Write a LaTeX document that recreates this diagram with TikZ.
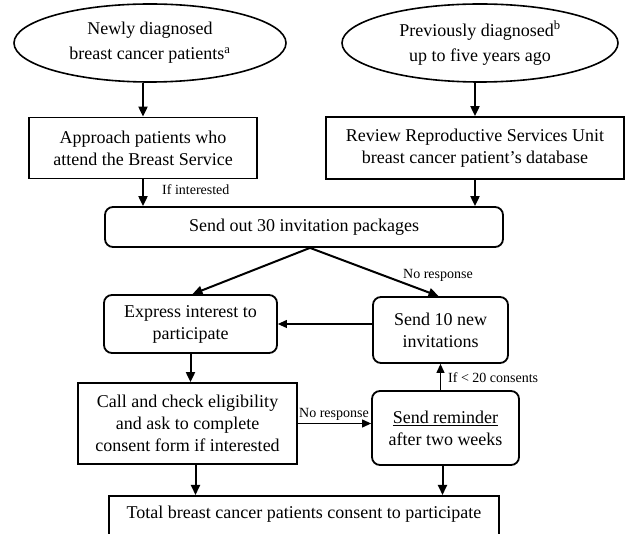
\documentclass[tikz,border=0pt]{standalone}
\usepackage{fontspec}
\setmainfont{Liberation Serif}
\usetikzlibrary{arrows.meta,shapes.geometric,calc}
\begin{document}
\begin{tikzpicture}[x=1pt,y=-1pt,
  every node/.style={font=\fontsize{18}{22}\selectfont, align=center, inner sep=0pt},
  oval/.style={draw, ellipse, line width=1.6pt, font=\fontsize{18}{25}\selectfont},
  sqbox/.style={draw, rectangle, line width=1.8pt},
  rbox/.style={draw, rectangle, rounded corners=8pt, line width=1.8pt},
  mainarrow/.style={line width=2pt, -{Triangle[length=10pt,width=9pt]}},
  thinarrow/.style={line width=1.1pt, -{Triangle[length=9pt,width=8pt]}},
  lbl/.style={font=\fontsize{14}{17}\selectfont}]
\clip (0,0) rectangle (630,534);
\fill[white] (0,0) rectangle (630,534);

% nodes
\node[oval, minimum width=272pt, minimum height=78pt] (e1) at (150,43)
  {Newly diagnosed\\breast cancer patients\textsuperscript{a}};
\node[oval, minimum width=276pt, minimum height=78pt] (e2) at (480,43)
  {Previously diagnosed\textsuperscript{b}\\up to five years ago};
\node[sqbox, minimum width=228pt, minimum height=61pt] (b1) at (143,148)
  {Approach patients who\\attend the Breast Service};
\node[sqbox, minimum width=298pt, minimum height=62pt] (b2) at (475,148)
  {Review Reproductive Services Unit\\breast cancer patient’s database};
\node[rbox, minimum width=398pt, minimum height=40pt] (b3) at (304,227)
  {Send out 30 invitation packages};
\node[rbox, minimum width=173pt, minimum height=58pt] (ex) at (190.5,324)
  {Express interest to\\participate};
\node[rbox, minimum width=135pt, minimum height=66pt] (s10) at (440.5,330)
  {Send 10 new\\invitations};
\node[sqbox, minimum width=219pt, minimum height=81pt] (call) at (187.5,423.5)
  {Call and check eligibility\\and ask to complete\\consent form if interested};
\node[rbox, minimum width=147pt, minimum height=74pt] (rem) at (445.5,428)
  {\underline{Send reminder}\\after two weeks};
\node[sqbox, anchor=north, minimum width=390pt, text height=23pt, text depth=50pt] (tot) at (304,495)
  {Total breast cancer patients consent to participate};

% labels
\node[lbl, anchor=west] (lint) at (162,190) {If interested};
\node[lbl] (lnr1) at (438,275) {No response};
\node[lbl, anchor=south] (lnr2) at (334,421) {No response};
\node[lbl, anchor=west] (l20) at (448,378) {If < 20 consents};

% connectors
\draw[mainarrow] (b1.north |- e1.south) -- (b1.north);
\draw[mainarrow] (b2.north |- e2.south) -- (b2.north);
\draw[mainarrow] (b1.south) -- (b1.south |- b3.north);
\draw[mainarrow] (b2.south) -- (b2.south |- b3.north);
\draw[mainarrow] ([xshift=6pt]b3.south) -- ([xshift=2pt]ex.north);
\draw[mainarrow] ([xshift=6pt]b3.south) -- ([xshift=-2pt]s10.north);
\draw[thinarrow] (s10.west |- ex.east) -- (ex.east);
\draw[mainarrow] (ex.south) -- (ex.south |- call.north);
\draw[thinarrow] (call.east) -- (call.east -| rem.west);
\draw[thinarrow] (s10.south |- rem.north) -- (s10.south);
\draw[mainarrow] ([xshift=8pt]call.south) -- ([xshift=8pt]call.south |- tot.north);
\draw[mainarrow] ([xshift=-3pt]rem.south) -- ([xshift=-3pt]rem.south |- tot.north);
\end{tikzpicture}
\end{document}
